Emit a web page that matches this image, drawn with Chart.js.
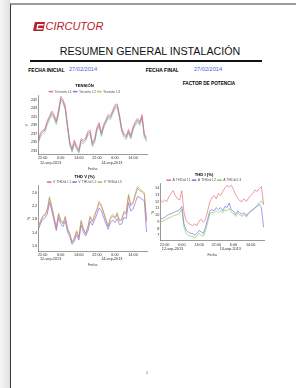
<!DOCTYPE html>
<html lang="es">
<head>
<meta charset="utf-8">
<title>Resumen general instalación</title>
<script src="https://cdn.jsdelivr.net/npm/chart.js@4.4.1/dist/chart.umd.min.js"></script>
<style>
  html, body { margin: 0; padding: 0; }
  body { position: relative; width: 296px; height: 388px; overflow: hidden; background: #fff;
         font-family: "Liberation Sans", Arial, sans-serif; }
  #sombra { position: absolute; left: 0; top: 0; width: 10px; height: 388px;
            background: linear-gradient(to right, #f7f7f7, #e0e0e0); }
  #hoja { position: absolute; left: 10px; top: 3px; width: 300px; height: 400px;
          border-left: 1.5px solid #3a3a3a; border-top: 2.5px solid #9c9c9c; background: #fff; }
  .txt { position: absolute; white-space: nowrap; line-height: 1; }
  .graf { position: absolute; }
</style>
</head>
<body>
<div id="sombra"></div>
<div id="hoja"></div>

<svg style="position:absolute; left:33px; top:21.5px;" width="12" height="9.5" viewBox="0 0 12 9.5">
  <path d="M2.6 0 H12 L10.2 9.5 H0.9 Q0 9.5 0.15 8.7 L1.6 0.8 Q1.8 0 2.6 0 Z" fill="#b5202e"/>
  <path d="M4.3 2.1 H10.7 L10.4 3.6 H5.5 L4.9 6 H9.8 L9.5 7.4 H3.3 Z" fill="#fff"/>
</svg>
<div class="txt" style="left:45.5px; top:20.6px; font-size:11px; font-style:italic; color:#b5202e;">CIRCUTOR</div>
<div class="txt" style="left:50px; width:200px; text-align:center; top:45.6px; font-size:10.7px; color:#111;">RESUMEN GENERAL INSTALACIÓN</div>
<div style="position:absolute; left:30px; top:60px; width:232px; height:2px; background:#111;"></div>
<div class="txt" style="left:28.3px; top:67.5px; font-size:5px; font-weight:bold;">FECHA INICIAL</div>
<div class="txt" style="left:69px; top:67.3px; font-size:5.6px; color:#4a5fd8;">27/02/2014</div>
<div class="txt" style="left:145.7px; top:67.5px; font-size:5px; font-weight:bold;">FECHA FINAL</div>
<div class="txt" style="left:194px; top:67.3px; font-size:5.6px; color:#4a5fd8;">27/02/2014</div>
<div class="txt" style="left:159px; width:100px; text-align:center; top:81.7px; font-size:4.7px; font-weight:bold;">FACTOR DE POTENCIA</div>
<div class="txt" style="left:146px; top:372.3px; font-size:3.5px; color:#333;">1</div>

<canvas class="graf" id="grafico_tension" width="126" height="91" style="left:22px; top:81px;"></canvas>
<canvas class="graf" id="grafico_thdv" width="126" height="97" style="left:22px; top:171px;"></canvas>
<canvas class="graf" id="grafico_thdi" width="122" height="87" style="left:144px; top:171px;"></canvas>

<script>
// horas contadas desde las 00:00 del 12-sep-2013, una muestra por hora
const horas = [20, 21, 22, 23, 24, 25, 26, 27, 28, 29,
               30, 31, 32, 33, 34, 35, 36, 37, 38, 39,
               40, 41, 42, 43, 44, 45, 46, 47, 48, 49,
               50, 51, 52, 53, 54, 55, 56, 57, 58, 59,
               60, 61, 62, 63, 64, 65, 66, 67, 68]

// eje x compartido
const ticksHora = [22, 30, 38, 46, 54, 62]
const etiquetasHora = ['22:00', '6:00', '14:00', '22:00', '6:00', '14:00']
const etiquetasFecha = ['12-sep-2013', '', '', '', '14-sep-2013', '']

// TENSIÓN (V)
const nombresTension = ['Tensión L1', 'Tensión L2', 'Tensión L3']
const ticksTension = [233, 235, 237, 239, 241, 243, 245]
const tensionL1 = [235.5, 237.2, 237.8, 238.2, 240.0, 241.2, 242.3, 241.5, 240.0, 242.5,
                   245.8, 245.0, 243.5, 239.0, 235.0, 233.5, 235.5, 234.2, 233.2, 235.8,
                   235.5, 236.0, 237.5, 237.8, 234.8, 235.8, 238.5, 239.6, 237.2, 239.2,
                   240.3, 241.5, 241.2, 242.5, 243.8, 244.0, 241.5, 238.3, 237.0, 236.5,
                   238.0, 236.6, 238.6, 239.8, 240.6, 239.8, 241.5, 237.0, 236.0]
const tensionL2 = [235.1, 236.8, 237.5, 237.8, 239.6, 240.8, 241.9, 241.0, 239.7, 242.0,
                   245.3, 244.6, 243.0, 238.6, 234.6, 233.1, 235.0, 233.8, 232.8, 235.4,
                   235.1, 235.6, 237.0, 237.4, 234.4, 235.4, 238.0, 239.2, 236.8, 238.8,
                   239.9, 241.0, 240.8, 242.1, 243.3, 243.6, 241.1, 237.9, 236.6, 236.1,
                   237.6, 236.2, 238.2, 239.4, 240.2, 239.4, 241.0, 236.6, 235.6]
const tensionL3 = [234.6, 236.3, 236.9, 237.3, 239.1, 240.2, 241.4, 240.6, 239.1, 241.5,
                   244.8, 244.1, 242.6, 238.1, 234.1, 232.6, 234.5, 233.3, 232.4, 234.9,
                   234.6, 235.1, 236.6, 236.9, 233.9, 234.9, 237.6, 238.7, 236.3, 238.3,
                   239.4, 240.6, 240.3, 241.6, 242.9, 243.1, 240.6, 237.4, 236.1, 235.6,
                   237.1, 235.7, 237.7, 238.9, 239.7, 238.9, 240.6, 236.1, 235.1]

// THD V (%)
const nombresThdV = ['V THDid L1', 'V THDid L2', 'V THDid L3']
const ticksThdV = [1.0, 1.4, 1.8, 2.2, 2.6]
const thdvL1 = [1.55, 1.75, 1.88, 1.92, 2.05, 2.42, 2.15, 1.85, 1.55, 1.95,
                1.75, 1.68, 1.85, 1.50, 1.35, 1.12, 1.22, 1.42, 1.25, 1.72,
                1.50, 1.38, 1.55, 1.85, 1.72, 1.90, 2.08, 2.28, 2.18, 1.98,
                1.78, 1.60, 1.82, 1.90, 1.82, 1.95, 1.75, 1.78, 2.00, 1.95,
                2.50, 2.20, 2.28, 2.50, 2.72, 2.65, 2.62, 2.55, 1.72]
const thdvL2 = [1.48, 1.66, 1.80, 1.84, 1.95, 2.30, 2.05, 1.76, 1.46, 1.85,
                1.66, 1.58, 1.75, 1.42, 1.28, 1.05, 1.15, 1.33, 1.18, 1.62,
                1.42, 1.30, 1.45, 1.74, 1.62, 1.78, 1.95, 2.14, 2.05, 1.86,
                1.66, 1.50, 1.70, 1.78, 1.70, 1.82, 1.64, 1.66, 1.86, 1.82,
                2.30, 2.05, 2.10, 2.30, 2.48, 2.45, 2.40, 2.35, 1.42]
const thdvL3 = [1.58, 1.72, 1.90, 1.95, 2.10, 2.48, 2.20, 1.88, 1.52, 1.98,
                1.78, 1.66, 1.90, 1.55, 1.38, 1.10, 1.25, 1.46, 1.28, 1.78,
                1.55, 1.36, 1.58, 1.90, 1.76, 1.94, 2.12, 2.34, 2.22, 2.02,
                1.80, 1.58, 1.86, 1.95, 1.86, 2.00, 1.78, 1.80, 2.05, 2.00,
                2.55, 2.24, 2.32, 2.56, 2.78, 2.70, 2.66, 2.60, 1.80]

// THD I (%)
const nombresThdI = ['A THDid L1', 'A THDid L2', 'A THDid L3']
const ticksThdI = [7, 8, 9, 10, 11, 12, 13, 14]
const thdiL1 = [12.25, 11.9, 12.2, 12.0, 12.7, 13.2, 13.6, 12.9, 12.4, 12.25,
                13.6, 10.4, 9.2, 8.8, 8.6, 8.45, 8.7, 8.45, 9.1, 9.4,
                8.95, 9.4, 10.6, 11.9, 12.6, 12.9, 12.4, 13.2, 12.9, 13.5,
                14.0, 14.4, 14.1, 14.4, 13.8, 13.0, 12.5, 12.1, 12.0, 12.4,
                12.0, 12.5, 12.9, 13.2, 13.7, 13.5, 13.9, 14.2, 11.6]
const thdiL2 = [9.4, 9.5, 9.65, 9.9, 10.1, 10.2, 10.35, 10.5, 10.6, 10.8,
                11.3, 8.7, 7.8, 7.5, 7.3, 7.3, 7.05, 7.3, 7.75, 7.5,
                7.3, 8.2, 9.4, 10.6, 10.8, 10.6, 11.1, 10.8, 11.1, 10.6,
                11.3, 11.1, 11.8, 10.8, 10.6, 10.1, 10.6, 10.35, 10.1, 10.35,
                9.9, 10.35, 10.6, 10.8, 11.1, 11.3, 11.6, 11.1, 8.2]
const thdiL3 = [9.0, 9.1, 9.2, 9.4, 9.6, 9.7, 9.9, 10.0, 10.1, 10.3,
                10.9, 8.2, 7.3, 7.0, 6.9, 6.85, 6.7, 6.9, 7.3, 7.0,
                6.9, 7.7, 8.9, 10.2, 10.4, 10.3, 10.6, 10.4, 10.6, 10.3,
                10.8, 10.6, 11.0, 10.4, 10.2, 9.8, 10.3, 10.0, 9.8, 10.1,
                9.7, 10.2, 10.5, 10.8, 11.0, 11.4, 11.8, 12.1, 11.5]

const colores = ['rgb(236, 110, 118)', 'rgb(118, 118, 226)', 'rgb(138, 204, 100)']

Chart.defaults.font.family = '"Liberation Sans", Arial, sans-serif'
Chart.defaults.color = '#333'

// la leyenda de chart.js deja 10px libres debajo, aqui se recorta
const leyenda_compacta = {
    id: 'leyenda_compacta',
    beforeLayout(chart) {
        const leyenda = chart.legend
        if (leyenda && !leyenda._compacta) {
            const fitOriginal = leyenda.fit
            leyenda.fit = function () {
                fitOriginal.call(this)
                this.height -= 8
            }
            leyenda._compacta = true
        }
    }
}

function armar_series(nombres, valores) {
    return nombres.map((nombre, i) => ({
        label: nombre,
        data: horas.map((h, j) => ({ x: h, y: valores[i][j] })),
        borderColor: colores[i],
        backgroundColor: colores[i],
        borderWidth: 0.7,
        pointRadius: 0,
        tension: 0,
        fill: false
    }))
}

function crear_grafico(id, cfg) {
    const config = {
        type: 'line',
        data: { datasets: armar_series(cfg.nombres, cfg.valores) },
        plugins: [leyenda_compacta],
        options: {
            responsive: false,
            animation: false,
            devicePixelRatio: 1,
            layout: { padding: cfg.padding },
            plugins: {
                tooltip: { enabled: false },
                title: {
                    display: true,
                    text: cfg.titulo,
                    color: '#000',
                    font: { size: 4.2, weight: 'bold', lineHeight: 1.1 },
                    padding: { top: 0.5, bottom: 0 }
                },
                legend: {
                    labels: {
                        color: '#555',
                        font: { size: 3.5 },
                        boxWidth: 4,
                        boxHeight: 0.8,
                        padding: 1.5
                    }
                }
            },
            scales: {
                x: {
                    type: 'linear',
                    min: 20,
                    max: 68.2,
                    grid: { display: false, drawTicks: false },
                    border: { display: true, color: '#555', width: 0.6 },
                    afterBuildTicks: (eje) => { eje.ticks = ticksHora.map(v => ({ value: v })) },
                    ticks: {
                        autoSkip: false,
                        maxRotation: 0,
                        minRotation: 0,
                        padding: 1.5,
                        font: { size: 3.8, lineHeight: 1.15 },
                        callback: function (valor) {
                            const i = ticksHora.indexOf(valor)
                            let fecha = etiquetasFecha[i]
                            if (i == 0) fecha = ' '.repeat(15) + fecha
                            if (i == 4) fecha = fecha + ' '.repeat(6)
                            return [etiquetasHora[i], fecha]
                        }
                    },
                    title: {
                        display: true,
                        text: 'Fecha',
                        font: { size: 3.4, lineHeight: 1.15 },
                        padding: { top: 0.6, bottom: 0 }
                    }
                },
                y: {
                    min: cfg.yMin,
                    max: cfg.yMax,
                    grid: { display: false, drawTicks: false },
                    border: { display: true, color: '#555', width: 0.6 },
                    afterBuildTicks: (eje) => { eje.ticks = cfg.yTicks.map(v => ({ value: v })) },
                    afterFit: (eje) => { eje.width = cfg.yAncho },
                    ticks: {
                        padding: 1,
                        font: { size: 3.8 },
                        callback: (valor) => valor.toFixed(cfg.decimales)
                    },
                    title: {
                        display: true,
                        text: cfg.yTitulo,
                        font: { size: 3.6, lineHeight: 1.15 },
                        padding: { top: cfg.yTituloPad, bottom: 0 }
                    }
                }
            }
        }
    }
    return new Chart(document.getElementById(id), config)
}

crear_grafico('grafico_tension', {
    titulo: 'TENSIÓN',
    nombres: nombresTension,
    valores: [tensionL1, tensionL2, tensionL3],
    yMin: 232, yMax: 246, yTicks: ticksTension, decimales: 0,
    yTitulo: 'V', yAncho: 16, yTituloPad: 3.2,
    padding: { top: 2.3, right: 1, bottom: 1, left: 0 }
})

crear_grafico('grafico_thdv', {
    titulo: 'THD V (%)',
    nombres: nombresThdV,
    valores: [thdvL1, thdvL2, thdvL3],
    yMin: 0.85, yMax: 2.8, yTicks: ticksThdV, decimales: 1,
    yTitulo: '%', yAncho: 16, yTituloPad: 5,
    padding: { top: 2.7, right: 1, bottom: 0.7, left: 0 }
})

crear_grafico('grafico_thdi', {
    titulo: 'THD I (%)',
    nombres: nombresThdI,
    valores: [thdiL1, thdiL2, thdiL3],
    yMin: 6.2, yMax: 14.6, yTicks: ticksThdI, decimales: 0,
    yTitulo: '%', yAncho: 13, yTituloPad: 3.9,
    padding: { top: 0.8, right: 2, bottom: 0.9, left: 0 }
})
</script>
</body>
</html>
